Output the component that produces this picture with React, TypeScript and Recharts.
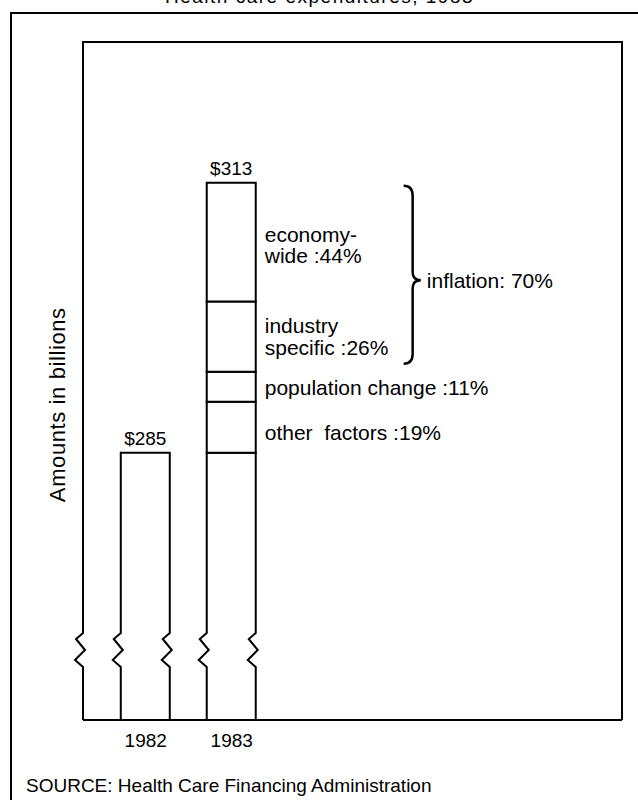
import React from 'react';
import { BarChart, Bar, XAxis, YAxis, ReferenceArea, LabelList } from 'recharts';

// ---- data ----
const years = [1982, 1983];
const totals = [285, 313];
const baseValues = [285, 285];
const otherFactors = [null, 5.3];
const populationChange = [null, 3.1];
const industrySpecific = [null, 7.3];
const economyWide = [null, 12.3];
const yearTicks = [1982, 1983];

const otherLabel = ['other  factors :19%'];
const populationLabel = ['population change :11%'];
const industryLabel = ['industry', 'specific :26%'];
const economyLabel = ['economy-', 'wide :44%'];
const inflationLabel = 'inflation: 70%';
const yAxisTitle = 'Amounts in billions';
const sourceNote = 'SOURCE: Health Care Financing Administration';
const titleText = 'Health care expenditures, 1983';

const data = years.map((year, i) => ({
  year,
  base: baseValues[i],
  other: otherFactors[i],
  population: populationChange[i],
  industry: industrySpecific[i],
  economy: economyWide[i],
  // total label shown on top of each bar's top segment
  baseTop: economyWide[i] == null ? `$${totals[i]}` : undefined,
  economyTop: economyWide[i] != null ? `$${totals[i]}` : undefined,
  otherText: otherFactors[i] != null ? otherLabel.join('\n') : undefined,
  populationText: populationChange[i] != null ? populationLabel.join('\n') : undefined,
  industryText: industrySpecific[i] != null ? industryLabel.join('\n') : undefined,
  economyText: economyWide[i] != null ? economyLabel.join('\n') : undefined,
}));

const inflationLow = baseValues[1] + (otherFactors[1] as number) + (populationChange[1] as number);
const inflationHigh = totals[1];

const FONT = '"Liberation Sans", Arial, Helvetica, sans-serif';
const INK = '#000';

// zigzag break marks (relative to bottom b)
const zigUp = (x: number, b: number) =>
  `L${x},${b - 53} L${x - 8},${b - 60} L${x + 2},${b - 70} L${x - 7},${b - 81} L${x},${b - 87}`;
const zigDown = (x: number, b: number) =>
  `L${x},${b - 87} L${x - 7},${b - 81} L${x + 2},${b - 70} L${x - 8},${b - 60} L${x},${b - 53}`;

const BaseShape = (p: any) => {
  const { x, y, width, height } = p;
  if (x == null || !height) return null;
  const b = y + height;
  const r = x + width;
  const d = `M${x},${b} ${zigUp(x, b)} L${x},${y} L${r},${y} ${zigDown(r, b)} L${r},${b}`;
  return <path d={d} fill="none" stroke={INK} strokeWidth={2} strokeLinejoin="miter" />;
};

const FrameShape = (p: any) => {
  const { x, y, width, height } = p;
  const b = y + height;
  const r = x + width;
  const d = `M${x},${b} ${zigUp(x, b)} L${x},${y} L${r},${y} L${r},${b}`;
  const ty = y + height * 0.535;
  return (
    <g>
      <path d={d} fill="none" stroke={INK} strokeWidth={2} />
      <text
        x={x - 25}
        y={ty}
        transform={`rotate(-90 ${x - 25} ${ty})`}
        textAnchor="middle"
        dominantBaseline="central"
        fontFamily={FONT}
        fontSize={22}
        letterSpacing={0.6}
        fill={INK}
      >
        {yAxisTitle}
      </text>
    </g>
  );
};

const BraceShape = (p: any) => {
  const { x, y, width, height } = p;
  const top = y + 3;
  const bot = y + height - 8;
  const mid = top + (bot - top) * 0.53;
  const v = x + 9;
  const tip = x + width;
  const d = `M${x},${top} Q${v},${top} ${v},${top + 10} L${v},${mid - 8} Q${v},${mid} ${tip},${mid} Q${v},${mid} ${v},${mid + 8} L${v},${bot - 10} Q${v},${bot} ${x},${bot}`;
  return (
    <g>
      <path d={d} fill="none" stroke={INK} strokeWidth={2.5} />
      <text x={tip + 6} y={mid} dominantBaseline="central" fontFamily={FONT} fontSize={21} fill={INK}>
        {inflationLabel}
      </text>
    </g>
  );
};

const segLabel = (dy: number) => (props: any) => {
  const { x, y, width, height, value } = props;
  if (x == null || value == null || value === '') return null;
  const lines = String(value).split('\n');
  const cx = x + width + 9;
  const cy = y + height / 2 + dy;
  const n = lines.length;
  const lh = 21.5;
  return (
    <g>
      {lines.map((t, i) => (
        <text
          key={i}
          x={cx}
          y={cy + (i - (n - 1) / 2) * lh}
          dominantBaseline="central"
          fontFamily={FONT}
          fontSize={21}
          fill={INK}
          style={{ whiteSpace: 'pre' }}
        >
          {t}
        </text>
      ))}
    </g>
  );
};

const topLabel = (props: any) => {
  const { x, y, width, value } = props;
  if (x == null || value == null || value === '') return null;
  return (
    <text
      x={x + width / 2}
      y={y - 14}
      textAnchor="middle"
      dominantBaseline="central"
      fontFamily={FONT}
      fontSize={19}
      fill={INK}
    >
      {value}
    </text>
  );
};

const YearTick = (props: any) => {
  const { x, y, payload } = props;
  return (
    <text x={x} y={y + 20} textAnchor="middle" dominantBaseline="central" fontFamily={FONT} fontSize={19} fill={INK}>
      {payload.value}
    </text>
  );
};

export default function App() {
  return (
    <div
      style={{
        position: 'absolute',
        left: 0,
        top: 0,
        width: 638,
        height: 800,
        overflow: 'hidden',
        background: '#fff',
        fontFamily: FONT,
      }}
    >
      <div
        style={{
          position: 'absolute',
          left: 165,
          top: -13,
          fontSize: 19,
          lineHeight: '20px',
          letterSpacing: 1.5,
          whiteSpace: 'nowrap',
          color: INK,
        }}
      >
        {titleText}
      </div>
      <div
        style={{
          position: 'absolute',
          left: 10,
          top: 12,
          width: 700,
          height: 900,
          borderLeft: '2px solid #000',
          borderTop: '2px solid #000',
        }}
      />
      <div style={{ position: 'absolute', left: 0, top: 0 }}>
        <BarChart width={638} height={800} data={data} margin={{ top: 42, right: 16, left: 83, bottom: 50 }}>
          <XAxis
            type="number"
            dataKey="year"
            domain={[1981.27, 1987.54]}
            ticks={yearTicks}
            allowDataOverflow
            height={30}
            tickSize={0}
            tickMargin={0}
            tickLine={false}
            axisLine={{ stroke: INK, strokeWidth: 2 }}
            tick={<YearTick />}
          />
          <YAxis hide domain={[257.3, 327.6]} allowDataOverflow />
          <ReferenceArea ifOverflow="visible" shape={<FrameShape />} />
          <Bar dataKey="base" stackId="a" barSize={49} isAnimationActive={false} shape={<BaseShape />}>
            <LabelList dataKey="baseTop" content={topLabel} />
          </Bar>
          <Bar dataKey="other" stackId="a" barSize={49} isAnimationActive={false} fill="#fff" stroke={INK} strokeWidth={2}>
            <LabelList dataKey="otherText" content={segLabel(5.5)} />
          </Bar>
          <Bar dataKey="population" stackId="a" barSize={49} isAnimationActive={false} fill="#fff" stroke={INK} strokeWidth={2}>
            <LabelList dataKey="populationText" content={segLabel(1)} />
          </Bar>
          <Bar dataKey="industry" stackId="a" barSize={49} isAnimationActive={false} fill="#fff" stroke={INK} strokeWidth={2}>
            <LabelList dataKey="industryText" content={segLabel(0)} />
          </Bar>
          <Bar dataKey="economy" stackId="a" barSize={49} isAnimationActive={false} fill="#fff" stroke={INK} strokeWidth={2}>
            <LabelList dataKey="economyText" content={segLabel(3)} />
            <LabelList dataKey="economyTop" content={topLabel} />
          </Bar>
          <ReferenceArea
            x1={1985}
            x2={1985.2}
            y1={inflationLow}
            y2={inflationHigh}
            ifOverflow="visible"
            shape={<BraceShape />}
          />
        </BarChart>
      </div>
      <div
        style={{
          position: 'absolute',
          left: 26,
          top: 776,
          fontSize: 19,
          lineHeight: '20px',
          whiteSpace: 'nowrap',
          color: INK,
        }}
      >
        {sourceNote}
      </div>
    </div>
  );
}
